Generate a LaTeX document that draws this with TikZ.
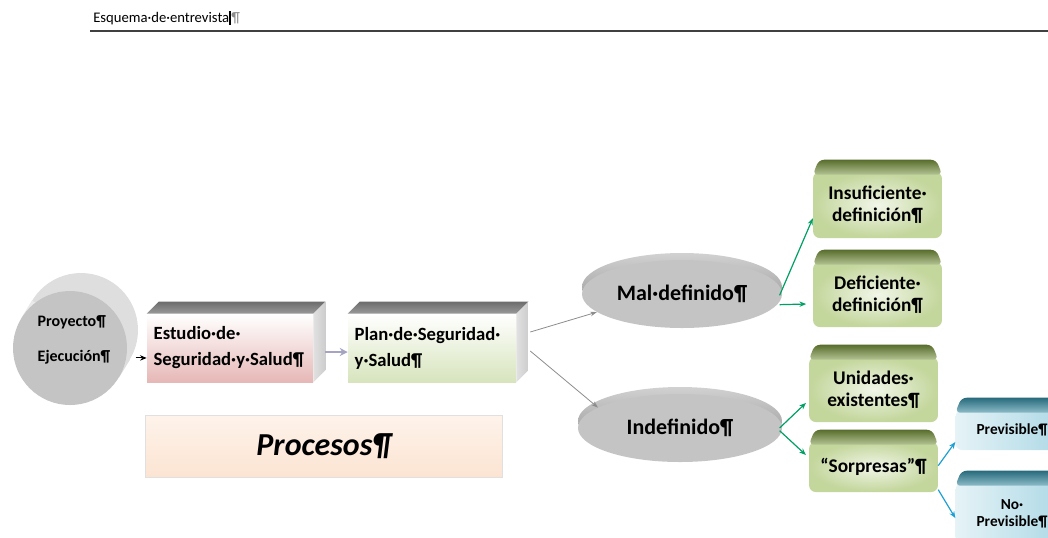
\documentclass[tikz,border=0pt]{standalone}
\usepackage{fontspec}
\setmainfont{Carlito}
\usetikzlibrary{arrows.meta,positioning,shapes.geometric,calc}
\definecolor{esgray}{RGB}{196,196,196}
\definecolor{esgrayback}{RGB}{222,222,222}
\definecolor{estop}{RGB}{128,128,128}
\definecolor{esside}{RGB}{205,205,205}
\definecolor{espink}{RGB}{230,184,183}
\definecolor{esgreen}{RGB}{215,228,189}
\definecolor{esolive}{RGB}{118,146,60}
\definecolor{esolivelt}{RGB}{195,214,155}
\definecolor{esteal}{RGB}{49,133,155}
\definecolor{esblue}{RGB}{170,215,228}
\definecolor{esarrgreen}{RGB}{0,160,100}
\definecolor{esarrblue}{RGB}{30,160,210}
\definecolor{eslav}{RGB}{165,165,195}
\definecolor{espeach}{RGB}{252,228,210}

\tikzset{
  cubefront/.style={minimum height=51pt, inner xsep=5pt, inner ysep=0pt, align=left,
    font=\fontsize{14}{19.5}\selectfont\bfseries},
  elrim/.style={ellipse, inner sep=0pt, top color=black!18, bottom color=black!45},
  elfront/.style={ellipse, inner sep=0pt, fill=esgray, font=\fontsize{16.5}{18}\selectfont\bfseries},
  gbox/.style={rounded corners=5pt, minimum width=96pt, text width=90pt, align=center,
    inner color=esgreen!35!white, outer color=esolivelt, font=\fontsize{14.5}{16.5}\selectfont\bfseries},
  bbox/.style={rounded corners=5pt, minimum width=82.5pt, text width=78pt, align=center,
    left color=esblue!30!white, right color=esblue, font=\fontsize{11.5}{13}\selectfont\bfseries},
  blkarr/.style={black, line width=0.8pt, -{Stealth[length=5pt,width=4pt]}},
  lavarr/.style={eslav, line width=1.6pt, -{Stealth[length=6pt,width=6pt]}},
  grayarr/.style={black!45, line width=0.6pt, -{Stealth[length=5pt,width=3.5pt]}},
  grnarr/.style={esarrgreen, line width=0.9pt, -{Stealth[length=5pt,width=4pt]}},
  bluarr/.style={esarrblue, line width=0.9pt, -{Stealth[length=5pt,width=4pt]}}
}

\begin{document}
\begin{tikzpicture}[x=0.75pt, y=-0.75pt]
\useasboundingbox (0,0) rectangle (1048,537);
\clip (0,0) rectangle (1048,537);

% Page header
\node[anchor=base west, inner sep=0pt, font=\fontsize{11}{12}\selectfont] (title) at (93,22)
  {Esquema·de·entrevista\rule[-2pt]{1.5pt}{10.5pt}{\color{black!45}¶}};
\draw[black!75, line width=0.8pt] (90,31) -- (1048,31);

% Project disc (cylinder seen from the front)
\node[circle, minimum size=85.5pt, fill=esgrayback] (projback) at (81,330) {};
\node[circle, minimum size=85.5pt, inner sep=0pt] (proj) at (70,348) {};
\shade[left color=esgrayback!70!black!20, right color=esgrayback]
  (proj.-31) -- (projback.-31) -- (projback.149) -- (proj.149) -- cycle;
\fill[esgray] (proj.center) circle[radius=57];
\node[align=left, font=\fontsize{12}{26}\selectfont\bfseries] (projtext) at ([xshift=3pt,yshift=6pt]proj.center)
  {Proyecto¶\\Ejecución¶};

% Study and plan blocks
\node[cubefront, minimum width=124.5pt, text width=114.5pt, top color=white, bottom color=espink]
  (estudio) at (230,348) {Estudio·de·\\Seguridad·y·Salud¶};
\node[cubefront, minimum width=126pt, text width=116pt, top color=white, bottom color=esgreen]
  (plan) at (432,348) {Plan·de·Seguridad·\\y·Salud¶};
\foreach \bx in {estudio,plan}{
  % top face
  \shade[top color=estop!85!black, bottom color=estop!80!white]
    (\bx.north west) -- ++(12,-12) -- ($(\bx.north east)+(12,-12)$) -- (\bx.north east) -- cycle;
  % side face
  \shade[left color=esside!60!white, right color=esside]
    (\bx.north east) -- ++(12,-12) -- ($(\bx.south east)+(12,-12)$) -- (\bx.south east) -- cycle;
}

% Label box under the blocks
\node[minimum width=267.75pt, minimum height=46.5pt, top color=espeach!45, bottom color=espeach,
      draw=black!12, font=\fontsize{24}{28}\selectfont\bfseries\itshape] (procesos) at (324,446)
  {Procesos¶};

% Discs
\node[elrim, minimum width=150pt, minimum height=51pt] (malrim) at (682,287) {};
\node[elfront, minimum width=150pt, minimum height=51pt] (mal) at (682,294) {Mal·definido¶};
\node[elrim, minimum width=153pt, minimum height=51pt] (indrim) at (680,421) {};
\node[elfront, minimum width=153pt, minimum height=51pt] (ind) at (680,428) {Indefinido¶};

% Green boxes
\node[gbox, minimum height=49.5pt] (insuf) at (877.5,205) {Insuficiente·\\definición¶};
\node[gbox, minimum height=48.75pt] (defic) at (877.5,294.5) {Deficiente·\\definición¶};
\node[gbox, minimum height=48.75pt] (unid) at (873.5,389.5) {Unidades·\\existentes¶};
\node[gbox, minimum height=37.5pt] (sorp) at (873.5,467) {“Sorpresas”¶};
\foreach \bx in {insuf,defic,unid,sorp}
  \shade[top color=esolive!75!black, bottom color=esolive!55!white, rounded corners=4pt]
    ($(\bx.north west)+(0,3)$) -- ($(\bx.north west)+(6,-12)$) -- ($(\bx.north east)+(-6,-12)$)
    -- ($(\bx.north east)+(0,3)$) -- cycle;

% Blue boxes
\node[bbox, minimum height=30pt] (prev) at (1012,430) {Previsible¶};
\node[bbox, minimum height=46.5pt] (noprev) at (1012,514) {No·\\Previsible¶};
\foreach \bx in {prev,noprev}
  \shade[top color=esteal!80!black, bottom color=esteal!55!white, rounded corners=4pt]
    ($(\bx.north west)+(0,3)$) -- ($(\bx.north west)+(6,-12)$) -- ($(\bx.north east)+(-6,-12)$)
    -- ($(\bx.north east)+(0,3)$) -- cycle;

% Connectors
\draw[blkarr, shorten <=7pt] (proj.-10) -- (proj.-10 -| estudio.west);
\draw[lavarr, shorten <=9pt] ([yshift=-3pt]estudio.east) -- ([yshift=-3pt]plan.west);
\draw[grayarr] ($(plan.east)+(14,-16)$) -- (mal.192);
\draw[grayarr] ($(plan.east)+(14,3)$) -- (ind.166);
\draw[grnarr] ([xshift=-2pt,yshift=-1pt]mal.east) -- ([yshift=-10pt]insuf.west);
\draw[grnarr, shorten >=5pt] ([xshift=-2pt,yshift=-8pt]mal.east) -- ([yshift=-7pt]defic.west);
\draw[grnarr, shorten >=3pt] ([xshift=-2pt]ind.east) -- ([yshift=-8pt]unid.west);
\draw[grnarr, shorten >=3pt] ([xshift=-2pt,yshift=-2pt]ind.east) -- ([yshift=7pt]sorp.west);
\draw[bluarr] ([yshift=1pt]sorp.east) -- ([yshift=-9pt]prev.west);
\draw[bluarr] ([yshift=-17pt]sorp.east) -- ([yshift=-3pt]noprev.west);
\end{tikzpicture}
\end{document}
